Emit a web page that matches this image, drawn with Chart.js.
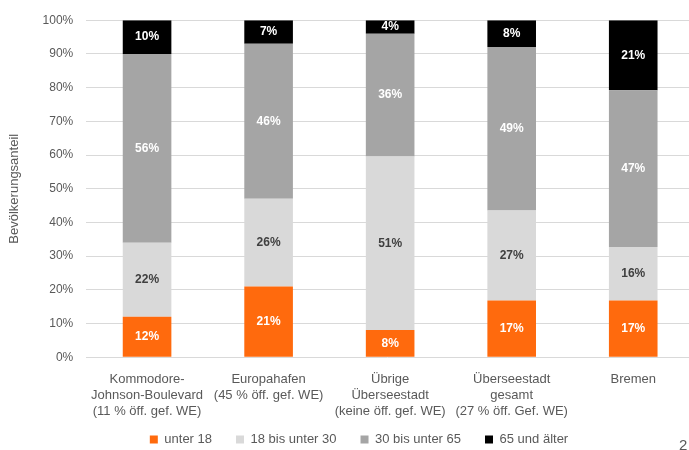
<!DOCTYPE html>
<html>
<head>
<meta charset="utf-8">
<script src="https://cdn.jsdelivr.net/npm/chart.js@4"></script>
<style>
  body { margin: 0; background: #fff; }
  #wrap { position: relative; width: 689px; height: 450px; overflow: hidden; }
  #pagenum { position: absolute; left: 679px; top: 436px; font: 15px "Liberation Sans", sans-serif; color: #595959; }
</style>
</head>
<body>
<div id="wrap">
  <canvas id="c" width="689" height="450"></canvas>
  <span id="pagenum">2</span>
</div>
<script>
const categories = [
    ['Kommodore-', 'Johnson-Boulevard', '(11 % öff. gef. WE)'],
    ['Europahafen', '(45 % öff. gef. WE)'],
    ['Übrige', 'Überseestadt', '(keine öff. gef. WE)'],
    ['Überseestadt', 'gesamt', '(27 % öff. Gef. WE)'],
    ['Bremen']
];
const unter18 = [12, 21, 8, 17, 17];
const bis30 = [22, 26, 51, 27, 16];
const bis65 = [56, 46, 36, 49, 47];
const ab65 = [10, 7, 4, 8, 21];
const seriesNames = ['unter 18', '18 bis unter 30', '30 bis unter 65', '65 und älter'];
const yTicks = [0, 10, 20, 30, 40, 50, 60, 70, 80, 90, 100];

const raw = [unter18, bis30, bis65, ab65];
const colors = ['#ff6a0d', '#d9d9d9', '#a5a5a5', '#000000'];
const labelColors = ['#ffffff', '#404040', '#ffffff', '#ffffff'];
const FONT = '"Liberation Sans", sans-serif';

// 100% stacked: scale each column to its total, like the original
const totals = categories.map((_, i) => raw.reduce((s, arr) => s + arr[i], 0));

const datasets = raw.map((arr, k) => ({
    label: seriesNames[k],
    data: arr.map((v, i) => v / totals[i] * 100),
    rawValues: arr,
    backgroundColor: colors[k],
    labelColor: labelColors[k],
    barPercentage: 0.4,
    categoryPercentage: 1
}));

const barLabels = {
    id: 'barLabels',
    afterDatasetsDraw(chart) {
        const ctx = chart.ctx;
        ctx.save();
        ctx.font = 'bold 12px ' + FONT;
        ctx.textAlign = 'center';
        ctx.textBaseline = 'middle';
        chart.data.datasets.forEach((ds, k) => {
            chart.getDatasetMeta(k).data.forEach((bar, i) => {
                const p = bar.getProps(['x', 'y', 'base'], true);
                ctx.fillStyle = ds.labelColor;
                ctx.fillText(ds.rawValues[i] + '%', p.x, (p.y + p.base) / 2);
            });
        });
        ctx.restore();
    }
};

// legend in the original sits a bit right of the canvas centre,
// the x labels run down into the gap above it, and the plot is
// cut off a few px past the right edge of the picture
const layoutTweak = {
    id: 'layoutTweak',
    afterLayout(chart) {
        chart.legend.left += 13;
        chart.legend.right += 13;
        const x = chart.scales.x;
        x.bottom += 20;
        x.right += 5;
        x.width += 5;
        x.configure();
    }
};

new Chart(document.getElementById('c'), {
    type: 'bar',
    data: { labels: categories, datasets: datasets },
    options: {
        responsive: false,
        animation: false,
        layout: { padding: { top: 19, right: 0, left: 3, bottom: -6 } },
        scales: {
            x: {
                stacked: true,
                grid: { display: false },
                border: { display: false },
                afterFit(axis) { axis.height -= 17; },
                ticks: {
                    color: '#595959',
                    font: { size: 13, family: FONT, lineHeight: 1.25 },
                    maxRotation: 0,
                    autoSkip: false,
                    padding: 6
                }
            },
            y: {
                stacked: true,
                min: 0,
                max: 100,
                afterBuildTicks(axis) { axis.ticks = yTicks.map(v => ({ value: v })); },
                grid: { color: '#d9d9d9', drawTicks: false },
                border: { display: false },
                ticks: {
                    color: '#595959',
                    font: { size: 12, family: FONT },
                    padding: 13,
                    callback: v => v + '%'
                },
                title: {
                    display: true,
                    text: 'Bevölkerungsanteil',
                    color: '#595959',
                    font: { size: 13, family: FONT },
                    padding: { top: 4, bottom: 7 }
                }
            }
        },
        plugins: {
            legend: {
                position: 'bottom',
                labels: {
                    boxWidth: 8,
                    boxHeight: 8,
                    color: '#595959',
                    font: { size: 13, family: FONT },
                    padding: 24
                }
            },
            tooltip: { enabled: false }
        }
    },
    plugins: [barLabels, layoutTweak]
});
</script>
</body>
</html>
